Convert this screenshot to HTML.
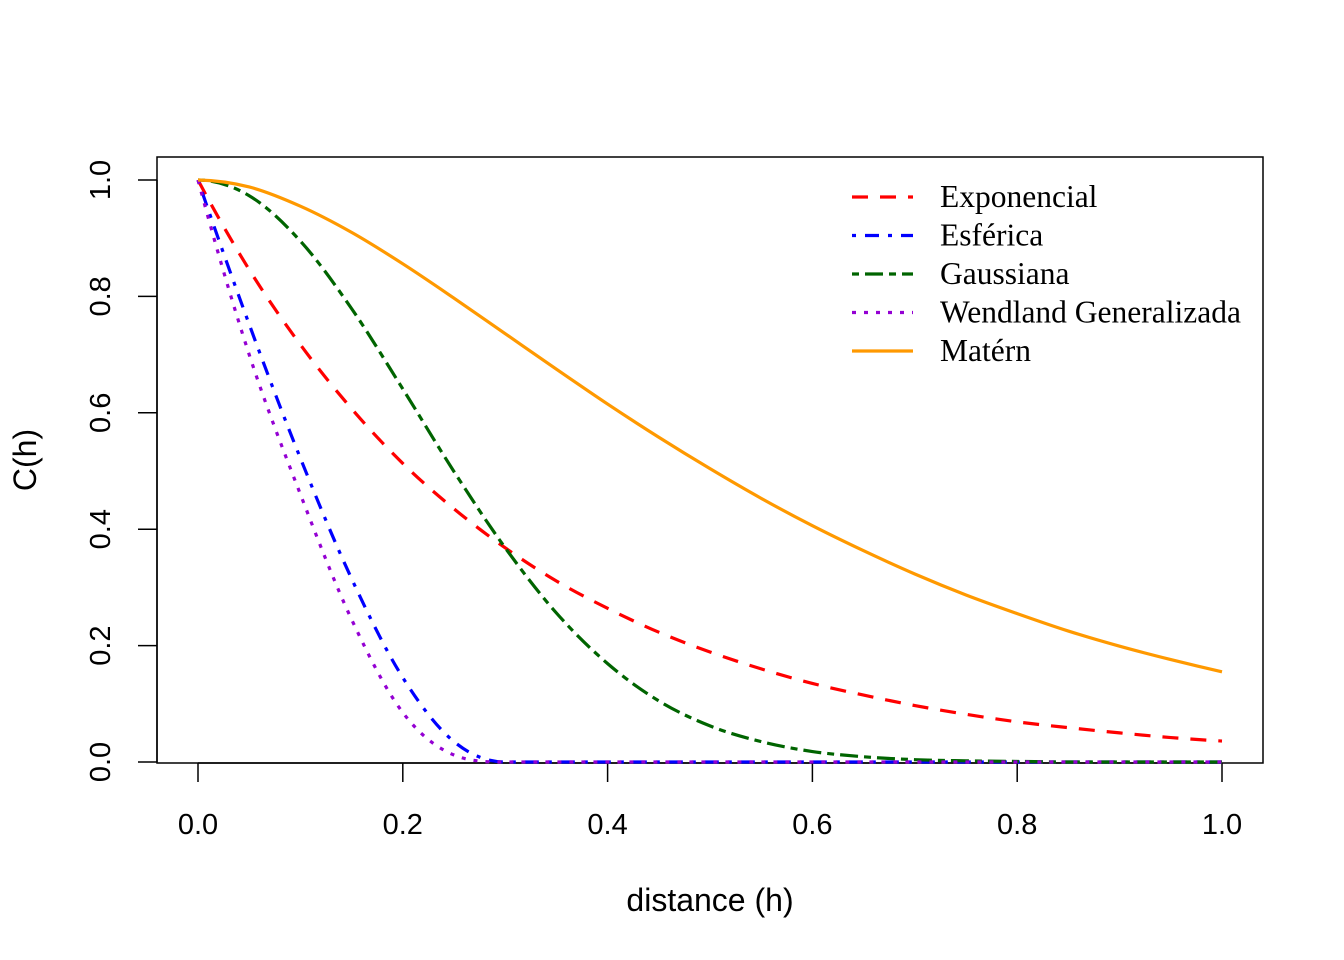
<!DOCTYPE html>
<html><head><meta charset="utf-8">
<style>
html,body{margin:0;padding:0;background:#fff;}
svg{display:block;}
.ax{font-family:"Liberation Sans",sans-serif;font-size:29px;fill:#000;}
.at{font-family:"Liberation Sans",sans-serif;font-size:32px;fill:#000;}
.lg{font-family:"Liberation Serif",serif;font-size:31.5px;fill:#000;}
</style></head>
<body>
<svg id="chart" width="1344" height="960" viewBox="0 0 1344 960" xmlns="http://www.w3.org/2000/svg">
<rect x="157" y="157" width="1106" height="606" fill="none" stroke="#000" stroke-width="1.5"/>
<g id="xticks"></g>
<g id="yticks"></g>
<text class="at" x="710" y="911" text-anchor="middle">distance (h)</text>
<text class="at" transform="translate(36,460) rotate(-90)" text-anchor="middle">C(h)</text>
<g id="series"></g>
<g id="legend"></g>
</svg>
<script>
const hVals = [0,0.05,0.1,0.15,0.2,0.25,0.3,0.35,0.4,0.45,0.5,0.55,0.6,0.65,0.7,0.75,0.8,0.85,0.9,0.95,1.0];
const expVals = [1,0.846,0.717,0.607,0.513,0.435,0.368,0.311,0.264,0.223,0.189,0.160,0.135,0.115,0.097,0.082,0.069,0.059,0.050,0.042,0.036];
const sphVals = [1,0.752,0.522,0.315,0.145,0.035,0,0,0,0,0,0,0,0,0,0,0,0,0,0,0];
const gauVals = [1,0.973,0.895,0.779,0.641,0.499,0.368,0.256,0.169,0.105,0.062,0.035,0.018,0.009,0.004,0.002,0.001,0,0,0,0];
const wenVals = [1,0.70,0.46,0.245,0.085,0.012,0,0,0,0,0,0,0,0,0,0,0,0,0,0,0];
const matVals = [1,0.988,0.955,0.910,0.856,0.797,0.736,0.675,0.615,0.558,0.504,0.453,0.406,0.363,0.323,0.287,0.255,0.225,0.199,0.176,0.155];
const xTickVals = [0,0.2,0.4,0.6,0.8,1.0];
const xTickLabels = ["0.0","0.2","0.4","0.6","0.8","1.0"];
const yTickVals = [0,0.2,0.4,0.6,0.8,1.0];
const yTickLabels = ["0.0","0.2","0.4","0.6","0.8","1.0"];
const seriesNames = ["Exponencial","Esférica","Gaussiana","Wendland Generalizada","Matérn"];

const NS="http://www.w3.org/2000/svg";
function xs(v){return 198+v*(1222-198);}
function ys(v){return 762-v*(762-180);}
function mk(tag,attrs,parent){const e=document.createElementNS(NS,tag);for(const k in attrs)e.setAttribute(k,attrs[k]);parent.appendChild(e);return e;}

const xg=document.getElementById('xticks');
mk('line',{x1:xs(xTickVals[0]),x2:xs(xTickVals[xTickVals.length-1]),y1:763,y2:763,stroke:'#000','stroke-width':1.5},xg);
xTickVals.forEach((v,i)=>{
  const l=mk('line',{x1:xs(v),x2:xs(v),y1:763,y2:782,stroke:'#000','stroke-width':1.5},xg);
  
  
  const t=mk('text',{x:xs(v),y:834,'text-anchor':'middle',class:'ax'},xg);
  t.textContent=xTickLabels[i];
  
  
});
const yg=document.getElementById('yticks');
mk('line',{x1:157,x2:157,y1:ys(yTickVals[0]),y2:ys(yTickVals[yTickVals.length-1]),stroke:'#000','stroke-width':1.5},yg);
yTickVals.forEach((v,i)=>{
  const l=mk('line',{x1:138,x2:157,y1:ys(v),y2:ys(v),stroke:'#000','stroke-width':1.5},yg);
  
  
  const t=mk('text',{transform:`translate(110,${ys(v)}) rotate(-90)`,'text-anchor':'middle',class:'ax'},yg);
  t.textContent=yTickLabels[i];
  
  
});

// monotone cubic (Fritsch-Carlson) with quadratic end tangents
function pathFor(vals){
  const n=vals.length, x=hVals, y=vals;
  const d=[], m=new Array(n);
  for(let i=0;i<n-1;i++) d.push((y[i+1]-y[i])/(x[i+1]-x[i]));
  for(let i=1;i<n-1;i++){ m[i]=(d[i-1]*d[i]<=0)?0:(d[i-1]+d[i])/2; }
  m[0]=2*d[0]-m[1]; if(m[0]*d[0]<0) m[0]=0;
  m[n-1]=2*d[n-2]-m[n-2]; if(m[n-1]*d[n-2]<0) m[n-1]=0;
  for(let i=0;i<n-1;i++){
    if(d[i]===0){m[i]=0;m[i+1]=0;continue;}
    const a=m[i]/d[i], b=m[i+1]/d[i], s=a*a+b*b;
    if(s>9){const t=3/Math.sqrt(s);m[i]=t*a*d[i];m[i+1]=t*b*d[i];}
  }
  let p=`M${xs(x[0])},${ys(y[0])}`;
  for(let i=0;i<n-1;i++){
    const hh=x[i+1]-x[i];
    const c1x=x[i]+hh/3, c1y=y[i]+m[i]*hh/3;
    const c2x=x[i+1]-hh/3, c2y=y[i+1]-m[i+1]*hh/3;
    p+=` C${xs(c1x)},${ys(c1y)} ${xs(c2x)},${ys(c2y)} ${xs(x[i+1])},${ys(y[i+1])}`;
  }
  return p;
}
const styles=[
 {c:'#ff0000',dash:'16 12'},
 {c:'#0000ff',dash:'4 9 14 9'},
 {c:'#006400',dash:'7 6 18 6'},
 {c:'#9400d3',dash:'4 8'},
 {c:'#ff9900',dash:'none'}
];
const allVals=[expVals,sphVals,gauVals,wenVals,matVals];
const sg=document.getElementById('series');
const lg=document.getElementById('legend');
allVals.forEach((vals,i)=>{
  const s=styles[i];
  const p=mk('path',{d:pathFor(vals),fill:'none',stroke:s.c,'stroke-width':3.2,'stroke-dasharray':s.dash,'stroke-linecap':'butt'},sg);
  
  
  const y=197+i*38.5;
  const l=mk('line',{x1:852,x2:913,y1:y,y2:y,stroke:s.c,'stroke-width':3.2,'stroke-dasharray':s.dash},lg);
  
  
  const t=mk('text',{x:940,y:y+10,class:'lg'},lg);
  t.textContent=seriesNames[i];
  
  
});
</script>
</body></html>
